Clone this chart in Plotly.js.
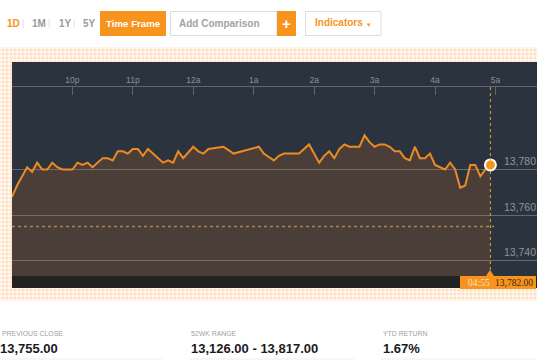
<!DOCTYPE html>
<html>
<head>
<meta charset="utf-8">
<script src="https://cdn.plot.ly/plotly-3.0.1.min.js"></script>
<style>
  html, body { margin:0; padding:0; width:537px; height:360px; overflow:hidden; background:#ffffff; }
  #panel { position:absolute; left:0; top:47px; width:537px; height:254px;
    background-color:#fddfc2;
    background-image:
      repeating-linear-gradient(0deg, rgba(255,255,255,0.5) 0px, rgba(255,255,255,0.5) 2px, rgba(255,255,255,0) 2px, rgba(255,255,255,0) 4px),
      repeating-linear-gradient(90deg, rgba(255,255,255,0.5) 0px, rgba(255,255,255,0.5) 2px, rgba(255,255,255,0) 2px, rgba(255,255,255,0) 4px);
  }
  #chart { position:absolute; left:0; top:0; width:539px; height:360px; }
</style>
</head>
<body>
<div id="panel"></div>
<div id="chart"></div>
<script>
// ---- data ----
const times = ["21:00","21:05","21:15","21:20","21:25","21:30","21:35","21:40","21:45","21:50",
  "22:00","22:05","22:10","22:15","22:20","22:25","22:30","22:35","22:40","22:45","22:50","22:55",
  "23:00","23:05","23:10","23:15","23:30","23:35","23:40","23:45","23:50",
  "00:00","00:05","00:10","00:15","00:30","00:40",
  "01:05","01:10","01:15","01:20","01:25","01:30","01:45","01:55",
  "02:05","02:10","02:15","02:20","02:25","02:30","02:35","02:45","02:50","02:55",
  "03:00","03:05","03:10","03:15","03:20","03:25","03:30","03:35","03:40","03:45","03:50","03:55",
  "04:00","04:10","04:15","04:20","04:25","04:30","04:35","04:40","04:45","04:50","04:55"];
const prices = [13768,13773,13781,13779,13783,13780,13780,13783,13781,13780,
  13780,13783,13782,13783,13781,13783,13785,13785,13784,13788,13788,13787,
  13789,13789,13786,13789,13783,13784,13783,13788,13785,
  13790,13788,13787,13789,13790,13787,
  13790,13787,13785.5,13784,13786,13787,13787,13791,
  13783,13786,13788,13785,13789,13791,13790,13790,13795,13792,
  13790,13791,13791,13790,13788,13788,13785,13784,13790,13785,13785,13787,
  13782,13780,13783,13780,13772,13773,13782,13782,13777,13780,13782];
const prevClose = 13755;
const xTickTimes = ["22:00","23:00","00:00","01:00","02:00","03:00","04:00","05:00"];
const xTickText = ["10p","11p","12a","1a","2a","3a","4a","5a"];
const yTickVals = [13740,13760,13780];
const yTickText = ["13,740","13,760","13,780"];
const lastTimeLabel = "04:55";
const lastPriceLabel = "13,782.00";
const rangeButtons = ["1D","1M","1Y","5Y"];
const statLabels = ["PREVIOUS CLOSE","52WK RANGE","YTD RETURN"];
const statValues = ["13,755.00","13,126.00 - 13,817.00","1.67%"];

// ---- layout geometry ----
const W = 539, H = 360, L = 12, T = 87, B = 276;
const PW = W - L, PH = B - T;
const pxPerMin = 60.43 / 60;
function toMin(t){ const p = t.split(":"); let v = (+p[0])*60 + (+p[1]) - 21*60; if (v < 0) v += 1440; return v; }
const px = x => (x - L) / PW;
const py = y => (B - y) / PH;

const xs = times.map(toMin);
const lastX = xs[xs.length-1], lastY = prices[prices.length-1];

const ORANGE = "#f7941d";
const FONT = "Liberation Sans, Arial, sans-serif";

const traces = [
  { x: xs, y: prices, type: "scatter", mode: "lines", fill: "tozeroy",
    fillcolor: "rgba(205,112,38,0.2)", line: { color: "#ee8a22", width: 2 }, hoverinfo: "skip" },
  { x: [lastX], y: [lastY], type: "scatter", mode: "markers",
    marker: { size: 11, color: ORANGE, line: { color: "#ffffff", width: 2 } }, hoverinfo: "skip" }
];

const shapes = [
  { type: "rect", xref: "paper", yref: "paper", x0: 0, x1: 1, y0: 1, y1: py(62), fillcolor: "#2b333e", line: { width: 0 }, layer: "below" },
  { type: "rect", xref: "paper", yref: "paper", x0: 0, x1: 1, y0: py(288), y1: 0, fillcolor: "#222222", line: { width: 0 }, layer: "below" },
  { type: "line", xref: "paper", yref: "y", x0: 0, x1: px(494), y0: prevClose, y1: prevClose, line: { color: "#a8855a", width: 1.5, dash: "dot" } },
  { type: "line", xref: "x", yref: "paper", x0: lastX, x1: lastX, y0: 0, y1: 1, line: { color: "#e3a12e", width: 1, dash: "dot" } },
  { type: "rect", xref: "paper", yref: "paper", x0: px(460), x1: px(536), y0: py(289), y1: py(276), fillcolor: ORANGE, line: { width: 0 } },
  { type: "path", xref: "paper", yref: "paper",
    path: `M ${px(486)} ${py(276)} L ${px(494)} ${py(276)} L ${px(490)} ${py(270)} Z`, fillcolor: ORANGE, line: { width: 0 } },
  { type: "rect", xref: "paper", yref: "paper", x0: px(100), x1: px(166), y0: py(36), y1: py(11), fillcolor: ORANGE, line: { width: 0 } },
  { type: "rect", xref: "paper", yref: "paper", x0: px(170.5), x1: px(277), y0: py(35.5), y1: py(11.5), fillcolor: "#ffffff", line: { color: "#dddddd", width: 1 } },
  { type: "rect", xref: "paper", yref: "paper", x0: px(277), x1: px(296), y0: py(36), y1: py(11), fillcolor: ORANGE, line: { width: 0 } },
  { type: "rect", xref: "paper", yref: "paper", x0: px(305.5), x1: px(381), y0: py(35.5), y1: py(11.5), fillcolor: "#ffffff", line: { color: "#dddddd", width: 1 } },
  { type: "line", xref: "paper", yref: "paper", x0: px(0), x1: px(162), y0: py(359), y1: py(359), line: { color: "#eeeeee", width: 1 } },
  { type: "line", xref: "paper", yref: "paper", x0: px(190), x1: px(354), y0: py(359), y1: py(359), line: { color: "#eeeeee", width: 1 } },
  { type: "line", xref: "paper", yref: "paper", x0: px(381), x1: px(537), y0: py(359), y1: py(359), line: { color: "#eeeeee", width: 1 } }
];

function ann(x, y, text, size, color, opts) {
  return Object.assign({ xref: "paper", yref: "paper", x: px(x), y: py(y), text: text, showarrow: false,
    xanchor: "left", yanchor: "middle", font: { family: FONT, size: size, color: color } }, opts || {});
}

const annotations = [];
const btnX = [5, 29.5, 56.5, 80.5];
rangeButtons.forEach((b, i) => {
  const c = i === 0 ? ORANGE : "#9a9a9a";
  annotations.push(ann(btnX[i], 23.5, b, 10, c, { font: { family: FONT, size: 10, color: c, weight: "bold" } }));
});
[23, 49, 74].forEach(x => annotations.push(ann(x, 23.5, "|", 9, "#dddddd", { xanchor: "center" })));
annotations.push(ann(133, 23.5, "Time Frame", 9.7, "#ffffff", { xanchor: "center", font: { family: FONT, size: 9.7, color: "#ffffff", weight: "bold" } }));
annotations.push(ann(177, 23.5, "Add Comparison", 10, "#a3a3a3", { font: { family: FONT, size: 10, color: "#a3a3a3", weight: "bold" } }));
annotations.push(ann(286.5, 23, "+", 15, "#ffffff", { xanchor: "center", font: { family: FONT, size: 15, color: "#ffffff", weight: "bold" } }));
annotations.push(ann(313, 22.5, "Indicators", 10, ORANGE, { font: { family: FONT, size: 10, color: ORANGE, weight: "bold" } }));
annotations.push(ann(369, 25, "▾", 7, ORANGE, { xanchor: "center" }));
annotations.push(ann(466, 282.5, lastTimeLabel, 9.5, "#fde1bf", { font: { family: "Liberation Serif, serif", size: 9.5, color: "#fde1bf" } }));
annotations.push(ann(492.5, 282.5, lastPriceLabel, 9.5, "#3a2812", { font: { family: "Liberation Serif, serif", size: 9.5, color: "#3a2812" } }));
const statX = [-2, 189, 381];
statLabels.forEach((s, i) => {
  annotations.push(ann(statX[i] + (i === 0 ? 2 : 0), 333.5, s, 6.9, "#a0a0a0"));
  annotations.push(ann(statX[i], 348.5, statValues[i], 13, "#1b1b1b", { font: { family: FONT, size: 13, color: "#1b1b1b", weight: "bold" } }));
});

const layout = {
  width: W, height: H,
  margin: { l: L, r: 0, t: T, b: H - B, pad: 0 },
  paper_bgcolor: "rgba(0,0,0,0)",
  plot_bgcolor: "#2b333e",
  showlegend: false,
  hovermode: false,
  xaxis: {
    range: [0, PW / pxPerMin], side: "top", showgrid: false, zeroline: false,
    showline: true, linecolor: "#5f6670", linewidth: 1,
    ticks: "inside", ticklen: 8, tickcolor: "#5f6670", tickwidth: 1,
    tickvals: xTickTimes.map(toMin), ticktext: xTickText,
    tickfont: { family: FONT, size: 8.5, color: "#8c9199" }, layer: "above traces",
    fixedrange: true
  },
  yaxis: {
    range: [13733.3, 13816.2], side: "right", showgrid: true, gridcolor: "#656a6e", gridwidth: 1,
    zeroline: false, showline: false, ticks: "",
    tickvals: yTickVals, ticktext: yTickText, ticklabelposition: "inside",
    ticklabelshift: -8,
    tickfont: { family: FONT, size: 10.5, color: "#8e949b" }, fixedrange: true
  },
  shapes: shapes,
  annotations: annotations
};

Plotly.newPlot("chart", traces, layout, { staticPlot: true, displayModeBar: false });
</script>
</body>
</html>
